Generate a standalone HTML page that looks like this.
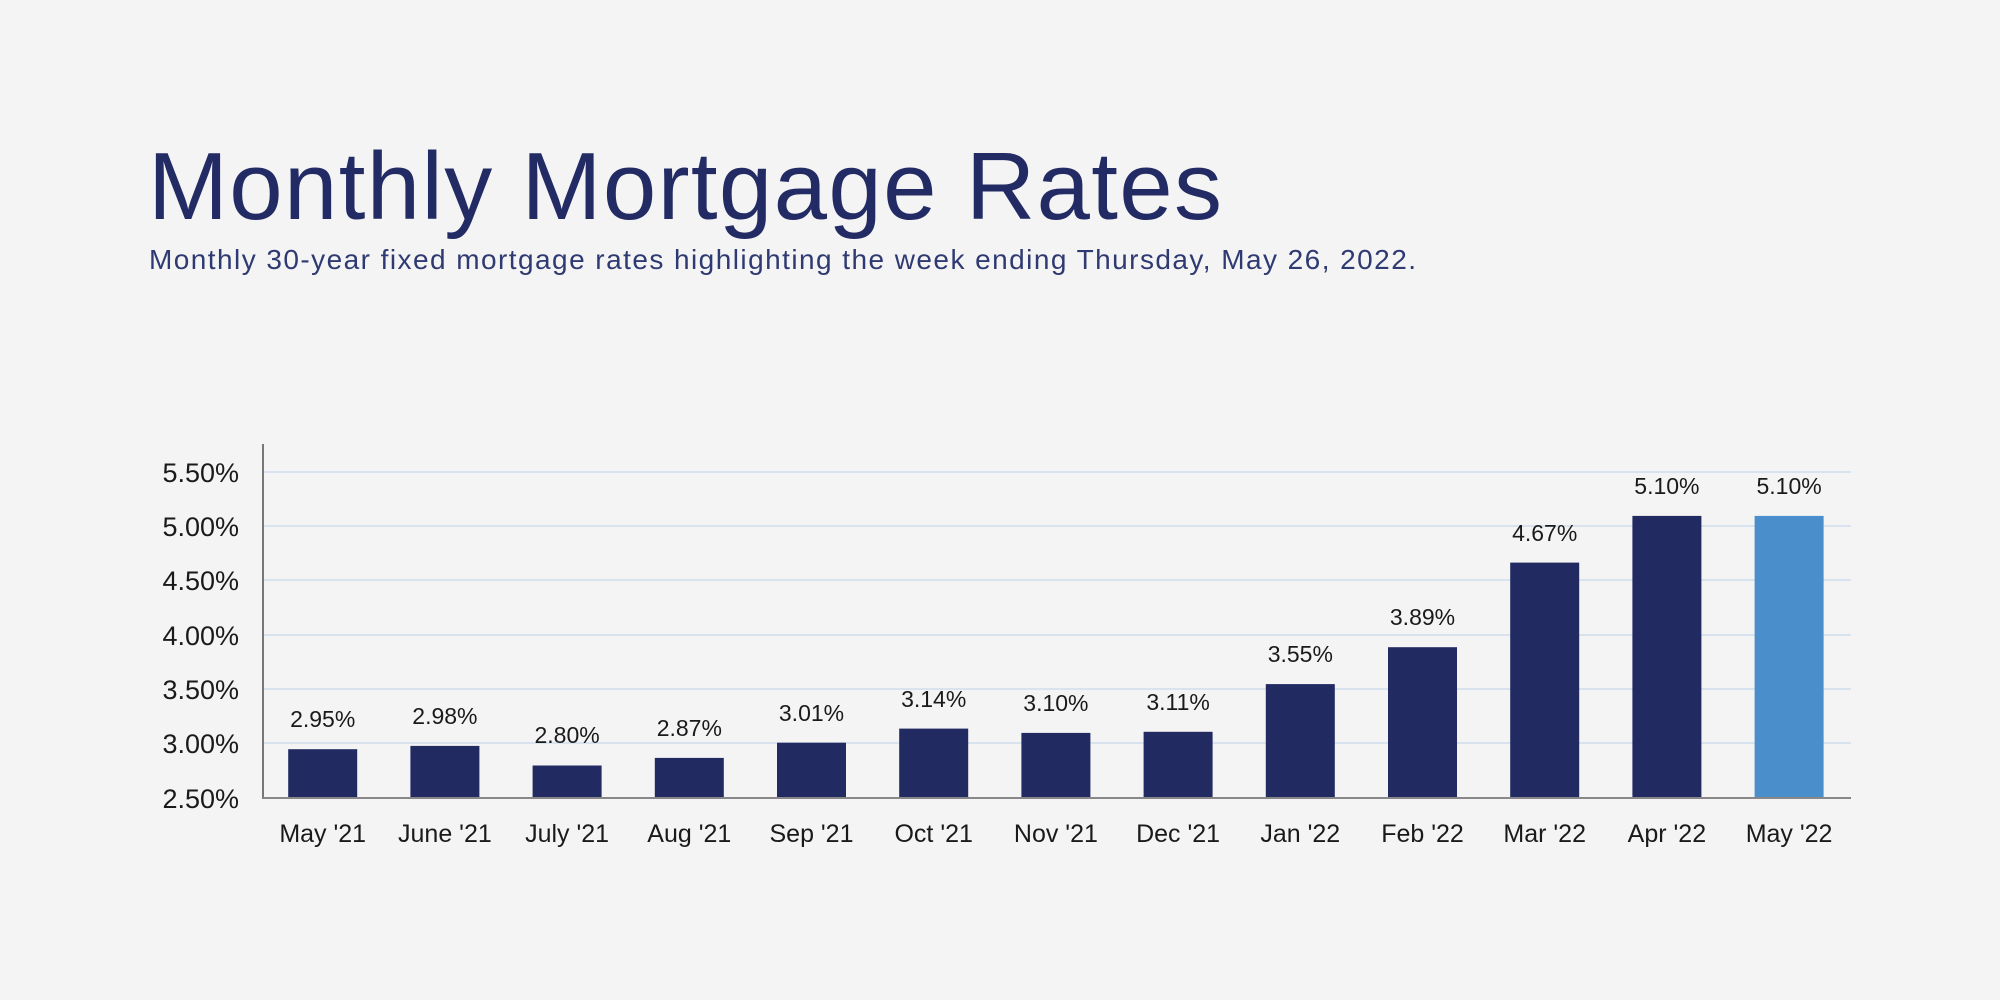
<!DOCTYPE html>
<html><head><meta charset="utf-8"><style>
html,body{margin:0;padding:0;background:#f4f4f4;}
svg{display:block;}
</style></head><body>
<svg width="2000" height="1000" viewBox="0 0 2000 1000" xmlns="http://www.w3.org/2000/svg" font-family="Liberation Sans, sans-serif">
<rect width="2000" height="1000" fill="#f4f4f4"/>
<text x="148" y="219" font-size="96" fill="#232b65" textLength="1074" lengthAdjust="spacing">Monthly Mortgage Rates</text>
<text x="149" y="269" font-size="28" fill="#2f3a72" textLength="1267" lengthAdjust="spacing">Monthly 30-year fixed mortgage rates highlighting the week ending Thursday, May 26, 2022.</text>
<g stroke="#d9e2ef" stroke-width="2">
<line x1="264" y1="472" x2="1851" y2="472"/>
<line x1="264" y1="526" x2="1851" y2="526"/>
<line x1="264" y1="580" x2="1851" y2="580"/>
<line x1="264" y1="635" x2="1851" y2="635"/>
<line x1="264" y1="689" x2="1851" y2="689"/>
<line x1="264" y1="743" x2="1851" y2="743"/>
</g>
<g font-size="27" fill="#1a1a1a" text-anchor="end">
<text x="239" y="482">5.50%</text>
<text x="239" y="536">5.00%</text>
<text x="239" y="590">4.50%</text>
<text x="239" y="645">4.00%</text>
<text x="239" y="699">3.50%</text>
<text x="239" y="753">3.00%</text>
<text x="239" y="808">2.50%</text>
</g>
<g fill="#222a62">
<rect x="288.2" y="749.2" width="69" height="48.8"/>
<rect x="410.4" y="745.9" width="69" height="52.1"/>
<rect x="532.6" y="765.5" width="69" height="32.5"/>
<rect x="654.8" y="757.9" width="69" height="40.1"/>
<rect x="777" y="742.7" width="69" height="55.3"/>
<rect x="899.2" y="728.6" width="69" height="69.4"/>
<rect x="1021.4" y="732.9" width="69" height="65.1"/>
<rect x="1143.6" y="731.8" width="69" height="66.2"/>
<rect x="1265.8" y="684.1" width="69" height="113.9"/>
<rect x="1388" y="647.2" width="69" height="150.8"/>
<rect x="1510.2" y="562.6" width="69" height="235.4"/>
<rect x="1632.4" y="515.9" width="69" height="282.1"/>
</g>
<rect x="1754.6" y="515.9" width="69" height="282.1" fill="#4a8ecb"/>
<g font-size="23" fill="#1a1a1a" text-anchor="middle">
<text x="322.7" y="727">2.95%</text>
<text x="444.9" y="724">2.98%</text>
<text x="567.1" y="743">2.80%</text>
<text x="689.3" y="736">2.87%</text>
<text x="811.5" y="721">3.01%</text>
<text x="933.7" y="707">3.14%</text>
<text x="1055.9" y="711">3.10%</text>
<text x="1178.1" y="710">3.11%</text>
<text x="1300.3" y="662">3.55%</text>
<text x="1422.5" y="625">3.89%</text>
<text x="1544.7" y="541">4.67%</text>
<text x="1666.9" y="494">5.10%</text>
<text x="1789.1" y="494">5.10%</text>
</g>
<g font-size="25" fill="#1a1a1a" text-anchor="middle">
<text x="322.7" y="842">May '21</text>
<text x="444.9" y="842">June '21</text>
<text x="567.1" y="842">July '21</text>
<text x="689.3" y="842">Aug '21</text>
<text x="811.5" y="842">Sep '21</text>
<text x="933.7" y="842">Oct '21</text>
<text x="1055.9" y="842">Nov '21</text>
<text x="1178.1" y="842">Dec '21</text>
<text x="1300.3" y="842">Jan '22</text>
<text x="1422.5" y="842">Feb '22</text>
<text x="1544.7" y="842">Mar '22</text>
<text x="1666.9" y="842">Apr '22</text>
<text x="1789.1" y="842">May '22</text>
</g>
<line x1="263" y1="444" x2="263" y2="799" stroke="#777" stroke-width="2"/>
<line x1="263" y1="798" x2="1851" y2="798" stroke="#888" stroke-width="2"/>
</svg>
</body></html>
